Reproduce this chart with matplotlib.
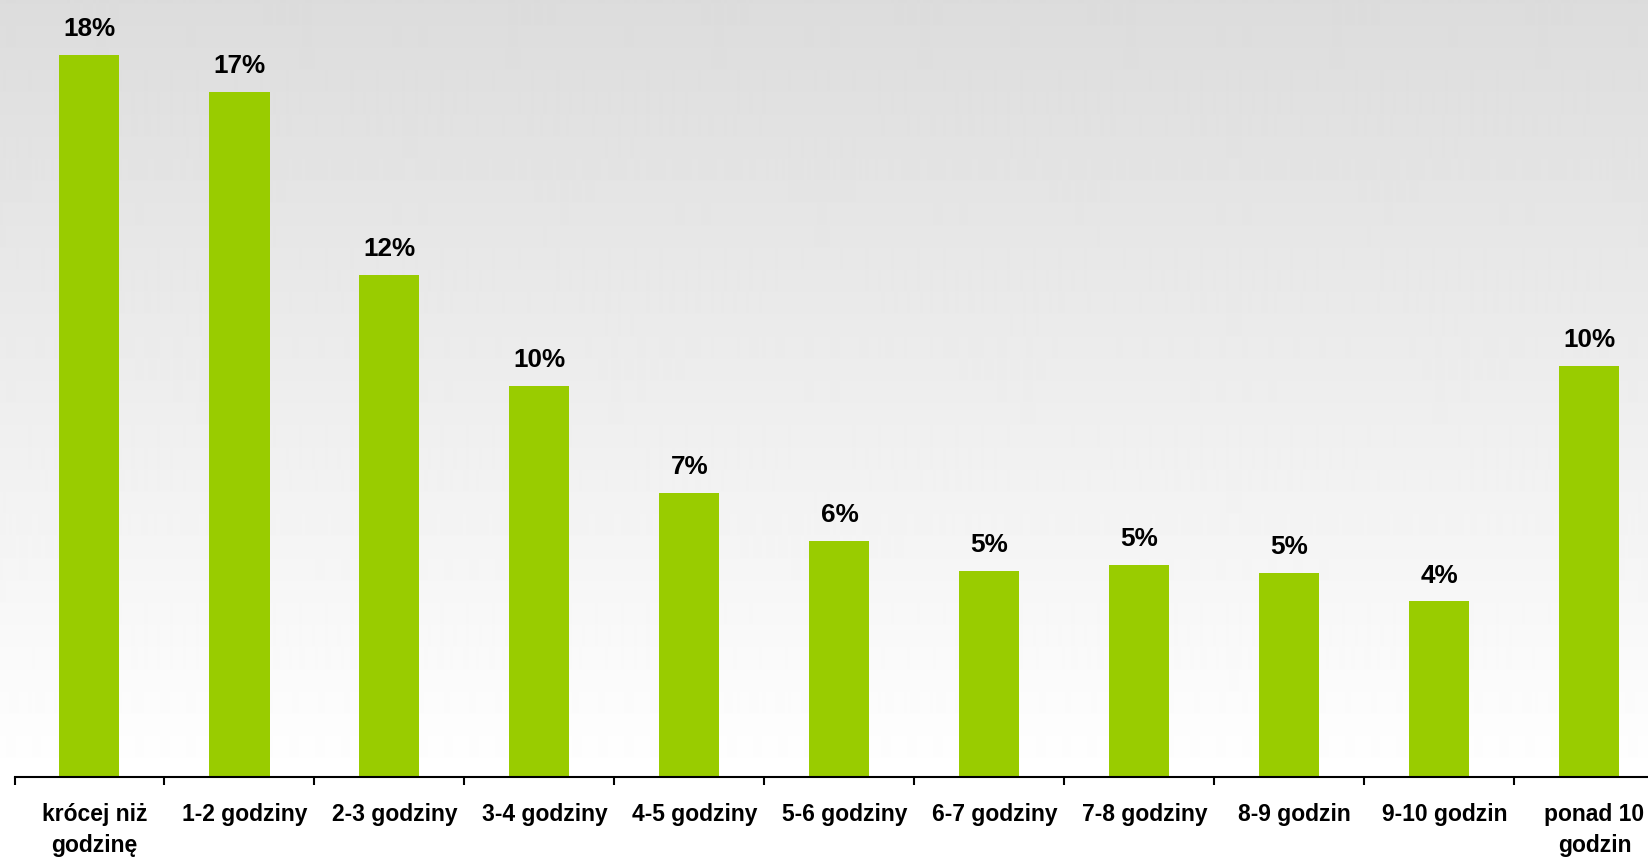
import numpy as np
import matplotlib.pyplot as plt
from matplotlib.transforms import ScaledTranslation

plt.rcParams['font.family'] = ['Liberation Sans', 'DejaVu Sans']

# czas spędzany dziennie - udział odpowiedzi (%)
categories = ['krócej niż\ngodzinę', '1-2 godziny', '2-3 godziny', '3-4 godziny',
              '4-5 godziny', '5-6 godziny', '6-7 godziny', '7-8 godziny',
              '8-9 godzin', '9-10 godzin', 'ponad 10\ngodzin']
shares = [17.9, 17.0, 12.45, 9.7, 7.05, 5.85, 5.1, 5.25, 5.05, 4.35, 10.2]

bar_color = '#99cc00'

W, H = 1648, 858
fig = plt.figure(figsize=(W / 100, H / 100), dpi=100)

# soft grey-to-white vertical gradient behind everything
bg = fig.add_axes([0, 0, 1, 1], zorder=0)
rows = np.arange(H)
shade = np.clip(220 + 35 * rows / 780, 0, 255) / 255
grad = np.repeat(shade[:, None], 2, axis=1)
bg.imshow(grad, cmap='gray', vmin=0, vmax=1, aspect='auto', extent=[0, 1, 0, 1],
          origin='upper', interpolation='bilinear')
bg.axis('off')

ax_bottom = (H - 776.7) / H
ax_left = 14.5 / W
ax = fig.add_axes([ax_left, ax_bottom, 1650 / W, 1 - ax_bottom], zorder=1)
ax.patch.set_alpha(0)

x = np.arange(len(categories))
bars = ax.bar(x, shares, width=0.4, color=bar_color, zorder=2)

for b, v in zip(bars, shares):
    ax.annotate(f'{v:.0f}%', (b.get_x() + b.get_width() / 2, b.get_height()),
                xytext=(0, 10), textcoords='offset points',
                ha='center', va='bottom', fontsize=18.8, fontweight='bold')

ax.set_xlim(-0.5, len(categories) - 0.5)
ax.set_ylim(0, 776.7 / 40.3)

ax.set_xticks(x)
ax.set_xticklabels(categories, fontsize=16.5, fontweight='bold', linespacing=1.45)
ax.set_xticks(np.arange(-0.5, len(categories)), minor=True)
ax.tick_params(axis='x', which='major', length=0, pad=19)
ax.tick_params(axis='x', which='minor', length=6, width=1.5, direction='out')
ax.set_yticks([])

# nudge category labels slightly to the right
shift = ScaledTranslation(5 / 100, 0, fig.dpi_scale_trans)
for lbl in ax.get_xticklabels():
    lbl.set_transform(lbl.get_transform() + shift)

for side in ['top', 'right', 'left']:
    ax.spines[side].set_visible(False)
ax.spines['bottom'].set_linewidth(1.5)

fig.savefig('out.png', dpi=100)
